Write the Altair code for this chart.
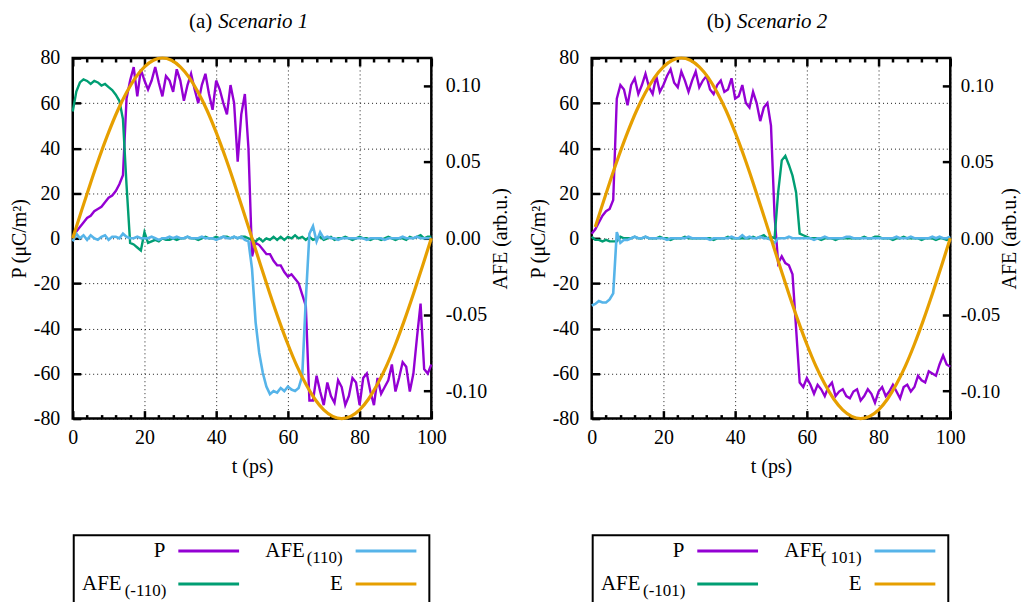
import altair as alt
import pandas as pd

FONT = "Liberation Serif"
PURPLE, GREEN, BLUE, ORANGE = "#9400D3", "#009E73", "#56B4E9", "#E69F00"

# ---------------- data ----------------
t_ps = list(range(101))

p_s1 = [0, 3, 5, 7, 9, 10, 12, 13, 14, 16,
        18, 19, 21, 24, 28, 62, 70, 76, 63, 75,
        70, 66, 70, 76, 69, 63, 72, 70, 65, 75,
        70, 61, 68, 73, 66, 60, 68, 73, 64, 57,
        70, 66, 60, 55, 68, 60, 34, 55, 64, 40,
        -8, -2, -3, -5, -7, -7, -10, -12, -12, -15,
        -17, -16, -18, -20, -25, -30, -72, -72, -61, -68,
        -74, -64, -70, -73, -63, -66, -74, -70, -62, -64,
        -74, -62, -60, -68, -74, -62, -69, -66, -63, -56,
        -68, -62, -55, -57, -68, -60, -44, -29, -58, -60,
        -56]

afe_m110_s1 = [0.083, 0.096, 0.102, 0.104, 0.103, 0.101, 0.103, 0.102, 0.100, 0.101,
               0.099, 0.097, 0.094, 0.090, 0.078, 0.035, -0.003, -0.004, -0.006, -0.008,
               0.004, -0.003, -0.002, -0.001, -0.002, 0.000, -0.001, -0.001, 0.000, -0.001,
               0.000, 0.000, 0.001, 0.000, 0.000, -0.001, 0.000, 0.001, 0.000, 0.000,
               0.001, 0.000, 0.001, 0.001, 0.000, 0.001, 0.000, 0.001, 0.001, 0.000,
               -0.001, -0.002, 0.000, -0.002, 0.000, -0.001, 0.001, -0.001, 0.001, -0.001,
               0.001, 0.000, 0.002, 0.000, 0.001, -0.001, 0.001, -0.001, 0.000, 0.001,
               -0.001, 0.000, 0.001, -0.001, 0.000, 0.000, 0.001, 0.000, -0.001, 0.000,
               0.001, 0.000, 0.000, -0.001, 0.000, 0.000, -0.001, 0.000, 0.001, 0.000,
               -0.001, 0.000, 0.000, -0.001, 0.001, 0.000, 0.001, 0.002, 0.000, 0.001,
               0.001]

afe_110_s1 = [-0.002, 0.003, 0.000, 0.002, -0.001, 0.002, 0.000, -0.001, 0.001, 0.002,
              -0.001, 0.001, 0.001, 0.000, 0.003, 0.001, 0.000, 0.000, 0.001, 0.000,
              0.000, 0.000, 0.001, 0.000, -0.001, 0.000, 0.000, 0.001, 0.000, 0.001,
              0.000, 0.000, 0.001, 0.000, 0.000, 0.000, 0.001, 0.000, 0.000, 0.000,
              -0.001, 0.000, 0.001, 0.000, 0.000, 0.001, 0.000, 0.001, -0.001, -0.002,
              -0.020, -0.055, -0.075, -0.088, -0.097, -0.102, -0.100, -0.101, -0.098, -0.100,
              -0.097, -0.099, -0.100, -0.098, -0.090, -0.040, 0.003, 0.008, -0.002, 0.004,
              0.000, 0.001, 0.000, 0.000, -0.001, 0.000, 0.000, 0.000, 0.000, 0.000,
              0.000, 0.000, -0.001, 0.000, 0.000, 0.000, 0.000, -0.001, 0.000, 0.000,
              0.000, 0.000, 0.001, 0.000, 0.000, 0.000, 0.001, 0.000, 0.000, 0.000,
              0.000]

p_s2 = [2, 4, 7, 10, 12, 13, 17, 62, 68, 66,
        59, 68, 71, 64, 68, 73, 67, 64, 72, 65,
        68, 72, 75, 69, 67, 74, 70, 65, 70, 74,
        67, 70, 72, 66, 64, 68, 70, 65, 66, 71,
        62, 63, 68, 60, 58, 65, 60, 52, 58, 60,
        50, 10, -11, -8, -11, -12, -16, -40, -64, -66,
        -62, -65, -69, -65, -67, -70, -66, -64, -70, -68,
        -67, -70, -71, -68, -67, -72, -70, -67, -69, -73,
        -68, -66, -70, -68, -65, -68, -71, -66, -65, -68,
        -66, -61, -63, -64, -59, -60, -61, -56, -52, -56,
        -57]

afe_m101_s2 = [0.001, -0.001, -0.001, -0.002, -0.001, -0.002, -0.002, -0.002, 0.001, 0.000,
               0.000, 0.000, 0.001, 0.000, 0.000, 0.001, 0.000, 0.000, 0.000, 0.001,
               0.000, 0.000, -0.001, 0.000, 0.000, 0.000, 0.001, 0.000, 0.000, 0.000,
               0.000, 0.000, 0.000, 0.000, -0.001, 0.000, 0.000, 0.000, 0.001, 0.000,
               0.000, 0.000, 0.000, 0.000, 0.000, 0.001, 0.000, 0.001, 0.002, 0.000,
               0.001, 0.000, 0.030, 0.051, 0.054, 0.048, 0.041, 0.030, 0.003, 0.002,
               0.001, 0.000, 0.000, 0.000, -0.001, 0.000, 0.000, 0.000, -0.001, 0.000,
               0.000, 0.000, 0.000, 0.000, 0.000, 0.000, 0.001, 0.000, 0.000, 0.001,
               0.001, 0.000, 0.000, 0.000, -0.001, 0.000, 0.000, 0.001, 0.000, 0.000,
               0.000, 0.000, -0.001, 0.000, 0.000, 0.000, -0.001, 0.000, 0.000, -0.001,
               0.000]

afe_101_s2 = [-0.044, -0.043, -0.041, -0.042, -0.042, -0.040, -0.036, 0.004, -0.003, -0.001,
              -0.001, 0.000, 0.001, 0.000, 0.000, 0.001, 0.000, 0.000, 0.000, 0.000,
              0.000, -0.001, 0.000, 0.000, 0.000, 0.000, 0.000, 0.001, 0.000, 0.000,
              0.000, 0.000, 0.000, -0.001, 0.000, 0.000, 0.000, 0.000, 0.000, 0.001,
              0.000, 0.000, 0.002, 0.000, 0.001, 0.000, 0.000, 0.001, 0.000, 0.000,
              -0.001, -0.003, 0.000, 0.000, 0.000, 0.001, 0.000, 0.000, 0.000, 0.000,
              0.000, 0.000, -0.001, 0.000, 0.000, 0.001, 0.000, 0.000, 0.000, 0.000,
              0.000, 0.001, 0.001, 0.000, 0.000, 0.000, 0.000, 0.000, 0.000, 0.000,
              0.000, 0.000, 0.000, 0.000, 0.000, 0.001, 0.000, 0.000, 0.000, 0.001,
              0.000, 0.000, 0.000, 0.000, 0.000, 0.001, 0.000, 0.001, 0.000, 0.000,
              0.001]

t_e1 = [0, 2.5, 5, 7.5, 10, 12.5, 15, 17.5, 20, 22.5,
        25, 27.5, 30, 32.5, 35, 37.5, 40, 42.5, 45, 47.5,
        50, 52.5, 55, 57.5, 60, 62.5, 65, 67.5, 70, 72.5,
        75, 77.5, 80, 82.5, 85, 87.5, 90, 92.5, 95, 97.5, 100]
e_s1 = [0.0, 12.5, 24.7, 36.3, 47.0, 56.6, 64.7, 71.3, 76.1, 79.0,
        80.0, 79.0, 76.1, 71.3, 64.7, 56.6, 47.0, 36.3, 24.7, 12.5,
        0.0, -12.5, -24.7, -36.3, -47.0, -56.6, -64.7, -71.3, -76.1, -79.0,
        -80.0, -79.0, -76.1, -71.3, -64.7, -56.6, -47.0, -36.3, -24.7, -12.5, 0.0]
t_e2 = [1, 2.5, 5, 7.5, 10, 12.5, 15, 17.5, 20, 22.5,
        25, 27.5, 30, 32.5, 35, 37.5, 40, 42.5, 45, 47.5,
        50, 52.5, 55, 57.5, 60, 62.5, 65, 67.5, 70, 72.5,
        75, 77.5, 80, 82.5, 85, 87.5, 90, 92.5, 95, 97.5, 100]
e_s2 = [5.0, 12.5, 24.7, 36.3, 47.0, 56.6, 64.7, 71.3, 76.1, 79.0,
        80.0, 79.0, 76.1, 71.3, 64.7, 56.6, 47.0, 36.3, 24.7, 12.5,
        0.0, -12.5, -24.7, -36.3, -47.0, -56.6, -64.7, -71.3, -76.1, -79.0,
        -80.0, -79.0, -76.1, -71.3, -64.7, -56.6, -47.0, -36.3, -24.7, -12.5, 0.0]

# axis tick positions
X_MAJOR = [0, 20, 40, 60, 80, 100]
X_MINOR = [4, 8, 12, 16, 24, 28, 32, 36, 44, 48, 52, 56, 64, 68, 72, 76, 84, 88, 92, 96]
Y_LEFT = [-80, -60, -40, -20, 0, 20, 40, 60, 80]
Y_RIGHT = [-0.10, -0.05, 0.0, 0.05, 0.10]

W, H = 360, 362


def xs():
    return alt.Scale(domain=[0, 100], nice=False, zero=False)


def yl():
    return alt.Scale(domain=[-80, 80], nice=False, zero=False)


def yr():
    return alt.Scale(domain=[-0.118, 0.118], nice=False, zero=False)


ONE = pd.DataFrame({"k": [0]})


def txt(s, x, y, size=21, align="right", italic=False):
    return alt.Chart(ONE).mark_text(
        text=s, align=align, baseline="middle", font=FONT, fontSize=size,
        fontStyle="italic" if italic else "normal", color="black"
    ).encode(x=alt.value(x), y=alt.value(y))


def swatch(color, x1, x2, y):
    return alt.Chart(ONE).mark_rule(color=color, strokeWidth=3).encode(
        x=alt.value(x1), x2=alt.value(x2), y=alt.value(y))


def make_panel(tag, name, p, afe_g, afe_b, t_e, e, sub_b, sub_g, rlp, rfs, rtp):
    d_p = pd.DataFrame({"t": t_ps, "v": p})
    d_g = pd.DataFrame({"t": t_ps, "v": afe_g})
    d_b = pd.DataFrame({"t": t_ps, "v": afe_b})
    d_e = pd.DataFrame({"t": t_e, "v": e})

    # dotted grid (no marks drawn)
    grid = alt.Chart(d_p).mark_line(strokeOpacity=0).encode(
        x=alt.X("t:Q", scale=xs(), axis=alt.Axis(
            orient="bottom", values=X_MAJOR, title=None, grid=True, labels=False,
            ticks=False, domain=False)),
        y=alt.Y("v:Q", scale=yl(), axis=alt.Axis(
            orient="left", values=Y_LEFT, title=None, grid=True, labels=False,
            ticks=False, domain=False)),
    )
    lp = alt.Chart(d_p).mark_line(color=PURPLE, strokeWidth=2.4).encode(
        x=alt.X("t:Q", scale=xs(), axis=alt.Axis(
            orient="bottom", values=X_MAJOR, title="t (ps)", grid=False, domain=False,
            offset=-8, tickSize=8, labelPadding=9, titlePadding=9, labelFlush=False)),
        y=alt.Y("v:Q", scale=yl(), axis=alt.Axis(
            orient="left", values=Y_LEFT, title="P (μC/m²)", grid=False, domain=False,
            offset=-8, tickSize=8, labelPadding=13, titlePadding=4, labelFlush=False,
            labelExpr="replace(format(datum.value, 'd'), '\u2212', '-')")),
    )
    lg = alt.Chart(d_g).mark_line(color=GREEN, strokeWidth=2.4).encode(
        x=alt.X("t:Q", scale=xs(), axis=alt.Axis(
            orient="top", values=X_MAJOR, title=None, labels=False, grid=False,
            domain=False, offset=-8, tickSize=8)),
        y=alt.Y("v:Q", scale=yr(), axis=alt.Axis(
            orient="right", values=Y_RIGHT, title="AFE (arb.u.)", grid=False, domain=False,
            offset=-8, tickSize=8, labelPadding=rlp, titlePadding=rtp, titleAngle=270,
            titleBaseline="top", labelFontSize=rfs, labelFlush=False,
            labelExpr="replace(format(datum.value, '.2f'), '\u2212', '-')")),
    )
    lb = alt.Chart(d_b).mark_line(color=BLUE, strokeWidth=2.6).encode(
        x=alt.X("t:Q", scale=xs(), axis=alt.Axis(
            orient="bottom", values=X_MINOR, title=None, labels=False, grid=False,
            domain=False, offset=-4, tickSize=4)),
        y=alt.Y("v:Q", scale=yr(), axis=None),
    )
    le = alt.Chart(d_e).mark_line(color=ORANGE, strokeWidth=3.2, interpolate="monotone").encode(
        x=alt.X("t:Q", scale=xs(), axis=alt.Axis(
            orient="top", values=X_MINOR, title=None, labels=False, grid=False,
            domain=False, offset=-4, tickSize=4)),
        y=alt.Y("v:Q", scale=yl(), axis=None),
    )

    # panel title
    deco = [txt(tag, 140, -36, size=21, align="right"),
            txt(name, 146, -36, size=21, align="left", italic=True)]

    # boxed key below the panel
    box = alt.Chart(ONE).mark_rect(fill="white", fillOpacity=0, stroke="black", strokeWidth=2).encode(
        x=alt.value(1), x2=alt.value(358), y=alt.value(479), y2=alt.value(562))
    r1, r2 = 495, 528
    deco += [
        box,
        txt("P", 93, r1),
        swatch(PURPLE, 106, 167, r1),
        txt("AFE", 233, r1),
        txt(sub_b, 271, r1 + 7, size=17),
        swatch(BLUE, 284, 345, r1),
        txt("AFE", 49, r2),
        txt(sub_g, 94, r2 + 7, size=17),
        swatch(GREEN, 106, 167, r2),
        txt("E", 271, r2),
        swatch(ORANGE, 284, 345, r2),
    ]

    return alt.layer(grid, lp, lg, lb, le, *deco).resolve_scale(
        x="independent", y="independent").properties(width=W, height=H)


p1 = make_panel("(a)", "Scenario 1", p_s1, afe_m110_s1, afe_110_s1, t_e1, e_s1,
                "(110)", "(-110)", 14, 20, 4)
p2 = make_panel("(b)", "Scenario 2", p_s2, afe_m101_s2, afe_101_s2, t_e2, e_s2,
                "( 101)", "(-101)", 10, 19, 0)

chart = alt.hconcat(p1, p2, spacing=15).properties(
    padding={"left": 0, "top": 0, "right": 0, "bottom": 0}
).configure_axis(
    labelFont=FONT, titleFont=FONT, labelFontSize=20, titleFontSize=20,
    labelColor="black", titleColor="black", titleFontWeight="normal",
    tickColor="black", tickWidth=2.5,
    gridColor="black", gridDash=[1, 3], gridWidth=1, gridOpacity=0.9,
).configure_view(stroke="black", strokeWidth=2.5)

chart.save("out.html", embed_options={"renderer": "svg", "actions": False})
